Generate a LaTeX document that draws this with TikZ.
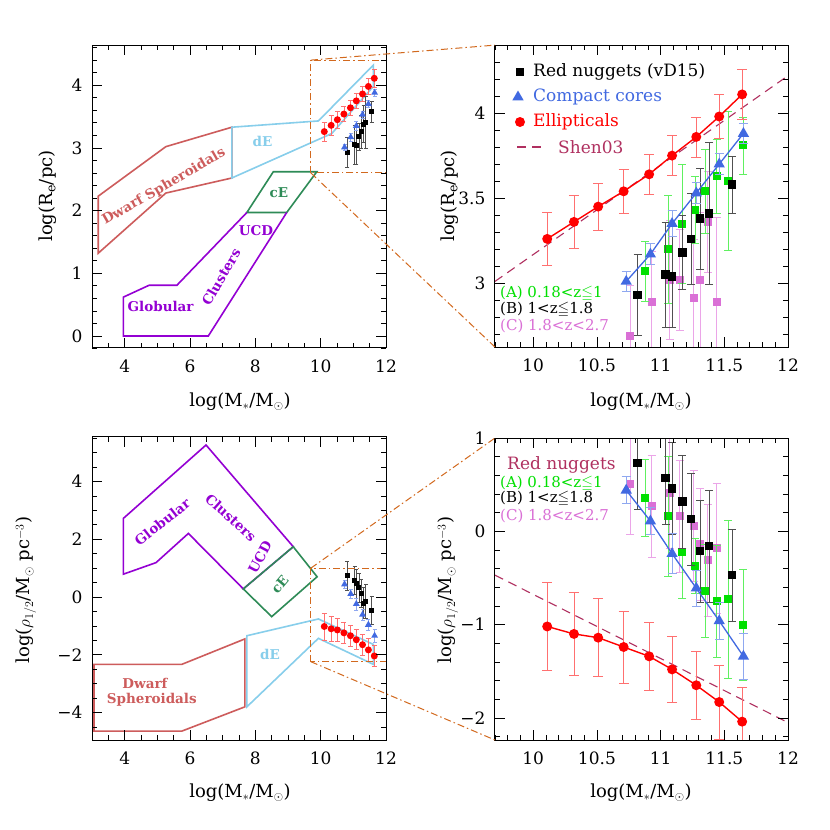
\documentclass[tikz,border=0pt]{standalone}
\usepackage{fontspec}
\usepackage{amssymb}
\setmainfont{DejaVu Serif}
\usetikzlibrary{arrows.meta,shapes.geometric}
\definecolor{cRed}{HTML}{FF0000}
\definecolor{eRed}{HTML}{FF7070}
\definecolor{cBlue}{HTML}{4169E1}
\definecolor{eBlue}{HTML}{8FA8F0}
\definecolor{cGreen}{HTML}{00E000}
\definecolor{eGreen}{HTML}{60F060}
\definecolor{cPink}{HTML}{DA70D6}
\definecolor{ePink}{HTML}{EBA5E8}
\definecolor{eBlk}{HTML}{505050}
\definecolor{cMaroon}{HTML}{B03060}
\definecolor{cDwarf}{HTML}{CD5C5C}
\definecolor{cdE}{HTML}{87CEEB}
\definecolor{ccE}{HTML}{2E8B57}
\definecolor{cGC}{HTML}{9400D3}
\definecolor{cOr}{HTML}{D2691E}
\newcommand\dataset[4]{%
  \foreach \x/\y/\e in #1 {\draw[#2,{Bar[width=#4]}-{Bar[width=#4]}] (\x,{\y-\e}) -- (\x,{\y+\e});}%
  \foreach \x/\y/\e in #1 {\node[#3] at (\x,\y) {};}}
% top (Re) data
\def\redT{10.11/3.26/0.16,10.32/3.36/0.16,10.51/3.45/0.14,10.71/3.54/0.13,10.91/3.64/0.12,11.09/3.75/0.12,11.28/3.86/0.12,11.46/3.98/0.13,11.64/4.11/0.15}
\def\bluT{10.73/3.01/0.06,10.92/3.17/0.065,11.09/3.35/0.08,11.28/3.53/0.065,11.46/3.70/0.065,11.65/3.88/0.06}
\def\grnT{10.88/3.07/0.18,11.06/3.20/0.32,11.17/3.35/0.35,11.27/3.43/0.2,11.35/3.54/0.25,11.44/3.63/0.22,11.53/3.60/0.41,11.65/3.81/0.17}
\def\blkT{10.82/2.93/0.24,11.04/3.05/0.31,11.09/3.04/0.3,11.17/3.18/0.22,11.24/3.26/0.27,11.31/3.38/0.3,11.38/3.41/0.42,11.56/3.58/0.17}
\def\pnkT{10.76/2.69/0.3,10.93/2.89/0.3,11.07/3.02/0.35,11.15/3.02/0.3,11.26/2.91/0.35,11.31/3.02/0.4,11.37/3.36/0.3,11.44/2.89/0.5}
% bottom (rho) data
\def\redB{10.11/-1.02/0.48,10.32/-1.10/0.45,10.51/-1.14/0.42,10.71/-1.24/0.39,10.91/-1.34/0.37,11.09/-1.48/0.36,11.28/-1.65/0.37,11.46/-1.83/0.4,11.64/-2.04/0.37}
\def\bluB{10.73/0.44/0.15,10.92/0.11/0.15,11.09/-0.24/0.22,11.28/-0.61/0.2,11.46/-0.96/0.2,11.65/-1.34/0.25}
\def\grnB{10.88/0.36/0.42,11.06/0.16/0.65,11.17/-0.22/0.5,11.27/-0.37/0.3,11.35/-0.64/0.5,11.44/-0.75/0.6,11.53/-0.73/0.85,11.65/-1.0/0.6}
\def\blkB{10.82/0.73/0.5,11.04/0.57/0.5,11.09/0.46/0.5,11.17/0.32/0.5,11.24/0.13/0.5,11.31/-0.21/0.55,11.38/-0.16/0.6,11.56/-0.47/0.5}
\def\pnkB{10.76/0.51/0.55,10.93/0.27/0.55,11.07/0.41/0.6,11.15/0.16/0.6,11.26/0.06/0.6,11.31/-0.14/0.6,11.37/-0.31/0.6,11.44/-0.18/0.7}
\newcommand\minidata[3]{% red blu blk
  \dataset{#3}{eBlk,line width=0.6pt}{rectangle,fill=black,inner sep=0,minimum size=5pt}{4pt}
  \dataset{#2}{eBlue,line width=0.6pt}{regular polygon,regular polygon sides=3,fill=cBlue,inner sep=0,minimum size=8pt}{4pt}
  \dataset{#1}{eRed,line width=0.7pt}{circle,fill=cRed,inner sep=0,minimum size=7pt}{5pt}}
\tikzset{
  ax/.style={line width=1pt},
  tk/.style={line width=0.7pt},
  tl/.style={font=\fontsize{17}{17}\selectfont},
  axl/.style={font=\fontsize{18}{18}\selectfont},
  reg/.style={line width=1.6pt},
  rl/.style={font=\fontsize{13.5}{13.5}\selectfont\bfseries},
  lg/.style={font=\fontsize{17}{17}\selectfont,anchor=west,inner sep=0},
  zl/.style={font=\fontsize{15}{15}\selectfont,anchor=west,inner sep=0},
  zoomline/.style={cOr,line width=1pt,dash pattern=on 7pt off 3pt on 1.5pt off 3pt},
}
\begin{document}
\begin{tikzpicture}[x=1pt,y=-1pt]
\useasboundingbox (0,0) rectangle (830,830);
\fill[white] (0,0) rectangle (830,830);

%================ TOP LEFT
\begin{scope}[shift={(-6,336)},x={(32.67pt,0pt)},y={(0pt,62.7pt)}]
  \coordinate (tlA) at (3,-0.19); \coordinate (tlB) at (12,4.64);
  \draw[reg,cDwarf] (3.19,2.23)--(5.26,3.02)--(7.28,3.33)--(7.28,2.52)--(5.26,2.28)--(3.19,1.32)--cycle;
  \draw[reg,cdE] (7.28,3.33)--(9.93,3.43)--(11.61,4.32)--(11.61,3.98)--(10.34,3.23)--(7.28,2.52)--cycle;
  \draw[reg,ccE] (8.55,2.62)--(9.88,2.62)--(8.96,1.97)--(7.74,1.97)--cycle;
  \draw[reg,cGC] (7.74,1.97)--(5.6,0.81)--(4.75,0.81)--(3.96,0.62)--(3.96,0)--(6.56,0)--(8.96,1.97);
  \node[rl,cDwarf,rotate=30] (tDw) at (5.2,2.38) {Dwarf Spheroidals};
  \node[rl,cdE] (tdE) at (8.22,3.1) {dE};
  \node[rl,ccE] (tcE) at (8.72,2.28) {cE};
  \node[rl,cGC] (tUCD) at (8.02,1.68) {UCD};
  \node[rl,cGC,rotate=60] (tClu) at (6.95,0.94) {Clusters};
  \node[rl,cGC] (tGlo) at (5.1,0.47) {Globular};
  \begin{scope}
    \clip (tlA) rectangle (tlB);
    \minidata{\redT}{\bluT}{\blkT}
  \end{scope}
  \draw[zoomline] (9.7,2.6) rectangle (12,4.4);
  \coordinate (tlR1) at (9.7,4.4); \coordinate (tlR2) at (9.7,2.6);
  \draw[ax] (tlA) rectangle (tlB);
  \foreach \t in {3,3.5,...,12} {\draw[tk] (\t,-0.19)--++(0,5pt); \draw[tk] (\t,4.64)--++(0,-5pt);}
  \foreach \t in {4,6,...,12} {\draw[tk] (\t,-0.19)--++(0,10pt); \draw[tk] (\t,4.64)--++(0,-10pt);
     \node[tl,anchor=north] at (\t,-0.19) [yshift=-8pt] {\t};}
  \foreach \t in {-0.2,0,...,4.6} {\draw[tk] (3,\t)--++(5pt,0); \draw[tk] (12,\t)--++(-5pt,0);}
  \foreach \t in {0,...,4} {\draw[tk] (3,\t)--++(10pt,0); \draw[tk] (12,\t)--++(-10pt,0);
     \node[tl,anchor=east] at (3,\t) [xshift=-6pt] {\t};}
\end{scope}
\node[axl] (tlx) at (240,402) {log(M$_*$/M$_\odot$)};
\node[axl,rotate=90] (tly) at (48,196) {log(R$_\mathrm{e}$/pc)};

%================ TOP RIGHT
\begin{scope}[shift={(-740.8,347)},x={(127.4pt,0pt)},y={(0pt,170pt)},yshift=-446.1pt]
  \coordinate (trA) at (9.7,2.624); \coordinate (trB) at (12,4.4);
  \begin{scope}
    \clip (trA) rectangle (trB);
    \draw[cMaroon,line width=1.1pt,dash pattern=on 9pt off 6pt] (9.7,3.01)--(12,4.22);
    \dataset{\pnkT}{ePink,line width=0.6pt}{rectangle,fill=cPink,inner sep=0,minimum size=8pt}{8pt}
    \dataset{\grnT}{eGreen,line width=0.6pt}{rectangle,fill=cGreen,inner sep=0,minimum size=8pt}{8pt}
    \dataset{\blkT}{eBlk,line width=0.6pt}{rectangle,fill=black,inner sep=0,minimum size=8.5pt}{8pt}
    \draw[cBlue,line width=1.3pt] (10.73,3.01)--(10.92,3.17)--(11.09,3.35)--(11.28,3.53)--(11.46,3.70)--(11.65,3.88);
    \dataset{\bluT}{eBlue,line width=0.8pt}{regular polygon,regular polygon sides=3,fill=cBlue,inner sep=0,minimum size=13pt}{9pt}
    \draw[cRed,line width=1.4pt] (10.11,3.26)--(10.32,3.36)--(10.51,3.45)--(10.71,3.54)--(10.91,3.64)--(11.09,3.75)--(11.28,3.86)--(11.46,3.98)--(11.64,4.11);
    \dataset{\redT}{eRed,line width=0.8pt}{circle,fill=cRed,inner sep=0,minimum size=10pt}{10pt}
  \end{scope}
  \coordinate (trC1) at (9.7,4.4); \coordinate (trC2) at (9.7,2.624);
  \draw[ax] (trA) rectangle (trB);
  \foreach \t in {9.7,9.8,...,12.01} {\draw[tk] (\t,2.624)--++(0,5pt); \draw[tk] (\t,4.4)--++(0,-5pt);}
  \foreach \t/\l in {10/10,10.5/10.5,11/11,11.5/11.5,12/12} {\draw[tk] (\t,2.624)--++(0,10pt); \draw[tk] (\t,4.4)--++(0,-10pt);
     \node[tl,anchor=north] at (\t,2.624) [yshift=-8pt] {\l};}
  \foreach \t in {2.7,2.8,...,4.41} {\draw[tk] (9.7,\t)--++(5pt,0); \draw[tk] (12,\t)--++(-5pt,0);}
  \foreach \t/\l in {3/3,3.5/3.5,4/4} {\draw[tk] (9.7,\t)--++(10pt,0); \draw[tk] (12,\t)--++(-10pt,0);
     \node[tl,anchor=east] at (9.7,\t) [xshift=-6pt] {\l};}
\end{scope}
\node[rectangle,fill=black,inner sep=0,minimum size=8.5pt] (lg1) at (520,72) {};
\node[lg] (lt1) at (533,72) {Red nuggets (vD15)};
\node[regular polygon,regular polygon sides=3,fill=cBlue,inner sep=0,minimum size=13pt] (lg2) at (518,97) {};
\node[lg,cBlue] (lt2) at (533,97) {Compact cores};
\node[circle,fill=cRed,inner sep=0,minimum size=10pt] (lg3) at (520,122) {};
\node[lg,cRed] (lt3) at (533,122) {Ellipticals};
\coordinate (lg4a) at (517,147); \coordinate (lg4b) at (545,147);
\draw[cMaroon,line width=1.1pt,dash pattern=on 9pt off 6pt] (lg4a)--(lg4b);
\node[lg,cMaroon] (lt4) at (558,147) {Shen03};
\node[zl,cGreen] (zA) at (500,294) {(A) 0.18<z$\leqq$1};
\node[zl] (zB) at (500,310) {(B) 1<z$\leqq$1.8};
\node[zl,cPink] (zC) at (500,326) {(C) 1.8<z<2.7};
\node[axl] (trx) at (641,402) {log(M$_*$/M$_\odot$)};
\node[axl,rotate=90] (try) at (450,196) {log(R$_\mathrm{e}$/pc)};

%================ BOTTOM LEFT
\begin{scope}[shift={(-6,597)},x={(32.67pt,0pt)},y={(0pt,28.9pt)}]
  \coordinate (blA) at (3,-4.95); \coordinate (blB) at (12,5.54);
  \draw[reg,cGC] (3.96,2.72)--(6.49,5.26)--(9.16,1.74)--(7.63,0.28)--(5.95,2.2)--(4.96,1.19)--(3.96,0.79)--cycle;
  \draw[reg,ccE] (9.16,1.74)--(9.89,0.7)--(8.5,-0.68)--(7.63,0.28)--cycle;
  \draw[reg,cdE] (7.74,-1.34)--(9.93,-0.76)--(11.61,-1.64)--(11.61,-2.33)--(9.93,-1.43)--(7.74,-3.8)--cycle;
  \draw[reg,cDwarf] (3.06,-2.33)--(5.75,-2.33)--(7.68,-1.45)--(7.68,-3.8)--(5.75,-4.64)--(3.06,-4.64)--cycle;
  \node[rl,cGC,rotate=38] (bGlo) at (5.15,2.6) {Globular};
  \node[rl,cGC,rotate=-42] (bClu) at (7.25,2.75) {Clusters};
  \node[rl,cGC,rotate=62] (bUCD) at (8.14,1.37) {UCD};
  \node[rl,ccE,rotate=50] (bcE) at (8.75,0.44) {cE};
  \node[rl,cdE] (bdE) at (8.45,-2.0) {dE};
  \node[rl,cDwarf] (bDw1) at (4.62,-2.99) {Dwarf};
  \node[rl,cDwarf] (bDw2) at (4.83,-3.55) {Spheroidals};
  \begin{scope}
    \clip (blA) rectangle (blB);
    \minidata{\redB}{\bluB}{\blkB}
  \end{scope}
  \draw[zoomline] (9.7,-2.24) rectangle (12,1);
  \coordinate (blR1) at (9.7,1); \coordinate (blR2) at (9.7,-2.24);
  \draw[ax] (blA) rectangle (blB);
  \foreach \t in {3,3.5,...,12} {\draw[tk] (\t,-4.95)--++(0,5pt); \draw[tk] (\t,5.54)--++(0,-5pt);}
  \foreach \t in {4,6,...,12} {\draw[tk] (\t,-4.95)--++(0,10pt); \draw[tk] (\t,5.54)--++(0,-10pt);
     \node[tl,anchor=north] at (\t,-4.95) [yshift=-8pt] {\t};}
  \foreach \t in {-4.5,-4,...,5.5} {\draw[tk] (3,\t)--++(5pt,0); \draw[tk] (12,\t)--++(-5pt,0);}
  \foreach \t/\l in {-4/−4,-2/−2,0/0,2/2,4/4} {\draw[tk] (3,\t)--++(10pt,0); \draw[tk] (12,\t)--++(-10pt,0);
     \node[tl,anchor=east] at (3,\t) [xshift=-6pt] {\l};}
\end{scope}
\node[axl] (blx) at (240,793) {log(M$_*$/M$_\odot$)};
\node[axl,rotate=90] (bly) at (26,590) {log($\rho_{1/2}$/M$_\odot$ pc$^{-3}$)};

%================ BOTTOM RIGHT
\begin{scope}[shift={(-740.8,531.3)},x={(127.4pt,0pt)},y={(0pt,93.3pt)}]
  \coordinate (brA) at (9.7,-2.237); \coordinate (brB) at (12,1);
  \begin{scope}
    \clip (brA) rectangle (brB);
    \draw[cMaroon,line width=1.1pt,dash pattern=on 9pt off 6pt] (9.7,-0.47)--(12,-2.05);
    \dataset{\pnkB}{ePink,line width=0.6pt}{rectangle,fill=cPink,inner sep=0,minimum size=8pt}{8pt}
    \dataset{\grnB}{eGreen,line width=0.6pt}{rectangle,fill=cGreen,inner sep=0,minimum size=8pt}{8pt}
    \dataset{\blkB}{eBlk,line width=0.6pt}{rectangle,fill=black,inner sep=0,minimum size=8.5pt}{8pt}
    \draw[cBlue,line width=1.3pt] (10.73,0.44)--(10.92,0.11)--(11.09,-0.24)--(11.28,-0.61)--(11.46,-0.96)--(11.65,-1.34);
    \dataset{\bluB}{eBlue,line width=0.8pt}{regular polygon,regular polygon sides=3,fill=cBlue,inner sep=0,minimum size=13pt}{9pt}
    \draw[cRed,line width=1.4pt] (10.11,-1.02)--(10.32,-1.10)--(10.51,-1.14)--(10.71,-1.24)--(10.91,-1.34)--(11.09,-1.48)--(11.28,-1.65)--(11.46,-1.83)--(11.64,-2.04);
    \dataset{\redB}{eRed,line width=0.8pt}{circle,fill=cRed,inner sep=0,minimum size=10pt}{10pt}
  \end{scope}
  \coordinate (brC1) at (9.7,1); \coordinate (brC2) at (9.7,-2.237);
  \draw[ax] (brA) rectangle (brB);
  \foreach \t in {9.7,9.8,...,12.01} {\draw[tk] (\t,-2.237)--++(0,5pt); \draw[tk] (\t,1)--++(0,-5pt);}
  \foreach \t/\l in {10/10,10.5/10.5,11/11,11.5/11.5,12/12} {\draw[tk] (\t,-2.237)--++(0,10pt); \draw[tk] (\t,1)--++(0,-10pt);
     \node[tl,anchor=north] at (\t,-2.237) [yshift=-8pt] {\l};}
  \foreach \t in {-2.2,-2,...,1.01} {\draw[tk] (9.7,\t)--++(5pt,0); \draw[tk] (12,\t)--++(-5pt,0);}
  \foreach \t/\l in {-2/−2,-1/−1,0/0,1/1} {\draw[tk] (9.7,\t)--++(10pt,0); \draw[tk] (12,\t)--++(-10pt,0);
     \node[tl,anchor=east] at (9.7,\t) [xshift=-6pt] {\l};}
\end{scope}
\node[lg,cMaroon] (bl1) at (507,465) {Red nuggets};
\node[zl,cGreen] (bzA) at (500,484) {(A) 0.18<z$\leqq$1};
\node[zl] (bzB) at (500,499) {(B) 1<z$\leqq$1.8};
\node[zl,cPink] (bzC) at (500,516) {(C) 1.8<z<2.7};
\node[axl] (brx) at (641,793) {log(M$_*$/M$_\odot$)};
\node[axl,rotate=90] (bry) at (448,590) {log($\rho_{1/2}$/M$_\odot$ pc$^{-3}$)};

%================ zoom connectors
\draw[zoomline] (tlR1)--(trC1);
\draw[zoomline] (tlR2)--(trC2);
\draw[zoomline] (blR1)--(brC1);
\draw[zoomline] (blR2)--(brC2);
\end{tikzpicture}
\end{document}
